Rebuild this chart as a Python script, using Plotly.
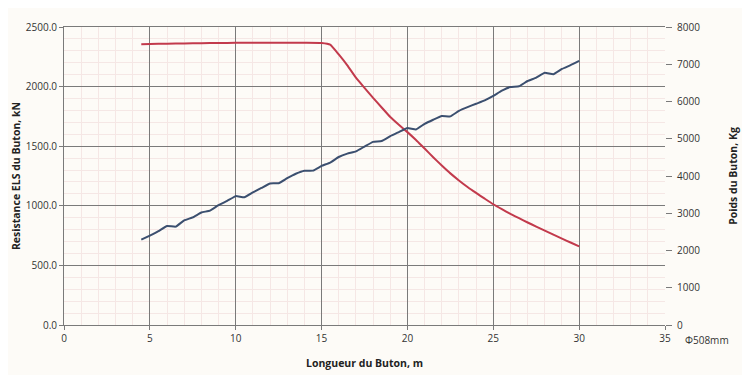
import plotly.graph_objects as go

# Length of strut (m)
longueur_res = [4.5, 5, 6, 7, 8, 9, 10, 11, 12, 13, 14, 15, 15.5, 16, 16.5, 17, 17.5, 18, 18.5,
                19, 19.5, 20, 20.5, 21, 21.5, 22, 22.5, 23, 23.5, 24, 24.5, 25, 25.5, 26,
                26.5, 27, 27.5, 28, 28.5, 29, 29.5, 30]
# Resistance ELS (kN)
resistance_kn = [2355, 2357, 2360, 2362, 2364, 2366, 2367, 2368, 2368, 2368, 2368, 2366, 2352,
                 2270, 2178, 2075, 1990, 1905, 1825, 1745, 1680, 1618, 1552, 1480, 1408, 1338,
                 1272, 1213, 1158, 1108, 1060, 1013, 972, 932, 896, 860, 826, 792, 758, 725,
                 692, 660]

longueur_poids = [4.5, 5, 5.5, 6, 6.5, 7, 7.5, 8, 8.5, 9, 9.5, 10, 10.5, 11, 11.5, 12, 12.5,
                  13, 13.5, 14, 14.5, 15, 15.5, 16, 16.5, 17, 17.5, 18, 18.5, 19, 19.5, 20,
                  20.5, 21, 21.5, 22, 22.5, 23, 23.5, 24, 24.5, 25, 25.5, 26, 26.5, 27, 27.5,
                  28, 28.5, 29, 29.5, 30]
# Weight of strut (kg)
poids_kg = [2290, 2400, 2520, 2660, 2640, 2810, 2890, 3020, 3070, 3220, 3330, 3460, 3430,
            3560, 3680, 3800, 3805, 3940, 4060, 4140, 4145, 4270, 4360, 4510, 4600, 4660,
            4790, 4915, 4940, 5070, 5180, 5290, 5250, 5400, 5510, 5610, 5600, 5750, 5850,
            5940, 6030, 6150, 6290, 6390, 6410, 6550, 6640, 6770, 6730, 6875, 6975, 7090]

FONT = "Open Sans"
GRID = "#7a7a7a"
MINOR = "#f5e7e5"
BG = "#fdfbf7"

fig = go.Figure()
fig.add_trace(go.Scatter(x=longueur_res, y=resistance_kn, mode="lines",
                         line=dict(color="#c23a4c", width=2, shape="spline", smoothing=0.4),
                         yaxis="y", showlegend=False))
fig.add_trace(go.Scatter(x=longueur_poids, y=poids_kg, mode="lines",
                         line=dict(color="#3b4f6f", width=2, shape="spline", smoothing=0.3),
                         yaxis="y2", showlegend=False))

fig.update_layout(
    width=742, height=367,
    margin=dict(l=56, r=85, t=19, b=50),
    paper_bgcolor=BG, plot_bgcolor=BG,
    font=dict(family=FONT, size=10, color="#333333"),
    xaxis=dict(range=[0, 35], dtick=5, tick0=0, showgrid=True, gridcolor=GRID, gridwidth=1,
               minor=dict(dtick=1, showgrid=True, gridcolor=MINOR, gridwidth=1),
               zeroline=False, showline=True, linecolor=GRID, linewidth=1, mirror=True,
               ticks="outside", ticklen=4, tickcolor=GRID, automargin=False,
               title=dict(text="<b>Longueur du Buton, m</b>", standoff=15,
                          font=dict(size=10.5, color="#222222"))),
    yaxis=dict(range=[0, 2500], dtick=500, tick0=0, tickformat=".1f", showgrid=True,
               gridcolor=GRID, gridwidth=1,
               minor=dict(dtick=100, showgrid=True, gridcolor=MINOR, gridwidth=1),
               zeroline=False, showline=True, linecolor=GRID, linewidth=1,
               ticks="outside", ticklen=4, tickcolor=GRID, automargin=False,
               title=dict(text="<b>Resistance ELS du Buton, kN</b>", standoff=3,
                          font=dict(size=10.5, color="#222222"))),
    yaxis2=dict(range=[0, 8000], dtick=1000, tick0=0, overlaying="y", side="right",
                showgrid=False, zeroline=False, showline=False,
                ticks="outside", ticklen=6, tickcolor=GRID, automargin=False,
                ticklabelstandoff=3,
                title=dict(text="<b>Poids du Buton, Kg</b>", standoff=30,
                           font=dict(size=10.5, color="#222222"))),
    annotations=[dict(text="Φ508mm", x=(707 - 64) / 601, y=(325 - 340) / 298,
                      xref="paper", yref="paper", xanchor="center", yanchor="middle",
                      showarrow=False, font=dict(size=10, color="#333333"))],
)

fig.write_html("out.html")
